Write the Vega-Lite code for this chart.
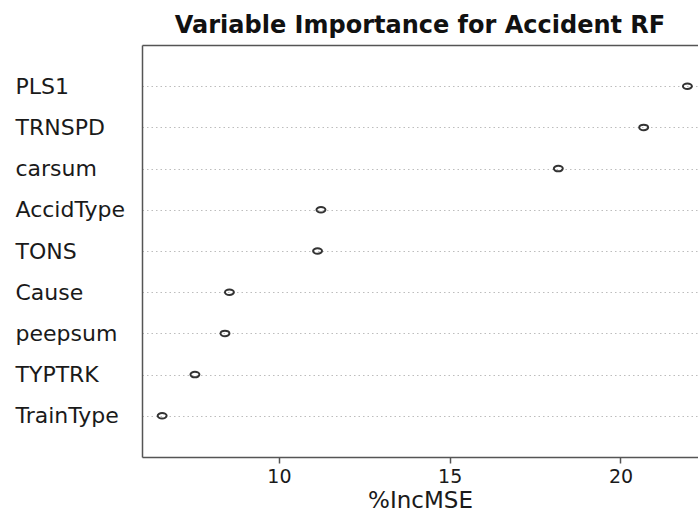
{
  "$schema": "https://vega.github.io/schema/vega-lite/v6.json",
  "autosize": "none",
  "padding": {"left": 142, "top": 45, "right": 0, "bottom": 61},
  "width": 556,
  "height": 412,
  "background": "white",
  "title": {
    "text": "Variable Importance for Accident RF",
    "font": "DejaVu Sans",
    "fontSize": 24,
    "fontWeight": "bold",
    "color": "#111111",
    "anchor": "middle",
    "frame": "group",
    "baseline": "alphabetic",
    "offset": 10,
    "dy": 22
  },
  "config": {"view": {"stroke": null}, "font": "DejaVu Sans"},
  "data": {
    "values": [
      {"variable": "PLS1", "value": 21.96},
      {"variable": "TRNSPD", "value": 20.68},
      {"variable": "carsum", "value": 18.18},
      {"variable": "AccidType", "value": 11.23},
      {"variable": "TONS", "value": 11.13},
      {"variable": "Cause", "value": 8.55},
      {"variable": "peepsum", "value": 8.42},
      {"variable": "TYPTRK", "value": 7.54},
      {"variable": "TrainType", "value": 6.58}
    ]
  },
  "resolve": {"axis": {"x": "independent"}},
  "layer": [
    {
      "mark": {
        "type": "point",
        "shape": "M -1 0 A 1 0.62 0 1 0 1 0 A 1 0.62 0 1 0 -1 0 Z",
        "filled": false,
        "stroke": "#333333",
        "strokeWidth": 2,
        "size": 80,
        "opacity": 1
      },
      "encoding": {
        "x": {
          "field": "value",
          "type": "quantitative",
          "scale": {"domain": [5.99, 22.27], "nice": false, "zero": false},
          "axis": {
            "orient": "bottom",
            "values": [10, 15, 20],
            "title": "%IncMSE",
            "titleFont": "DejaVu Sans",
            "titleFontSize": 23,
            "titleFontWeight": "normal",
            "titleColor": "#1a1a1a",
            "titleBaseline": "alphabetic",
            "titleY": 50,
            "labelFont": "DejaVu Sans",
            "labelFontSize": 19,
            "labelColor": "#1a1a1a",
            "labelPadding": 4,
            "labelFlush": false,
            "tickSize": 6,
            "tickColor": "#555555",
            "tickWidth": 1.5,
            "domainColor": "#555555",
            "domainWidth": 1.5,
            "grid": false
          }
        },
        "y": {
          "field": "variable",
          "type": "ordinal",
          "sort": null,
          "scale": {"type": "point", "padding": 1},
          "axis": {
            "title": null,
            "domain": true,
            "domainColor": "#555555",
            "domainWidth": 1.5,
            "ticks": false,
            "tickSize": 0,
            "labelAlign": "left",
            "labelPadding": 127,
            "labelFont": "DejaVu Sans",
            "labelFontSize": 22,
            "labelColor": "#1a1a1a",
            "grid": true,
            "gridColor": "#bdbdbd",
            "gridDash": [1.5, 3],
            "gridWidth": 1
          }
        }
      }
    },
    {
      "mark": {"type": "point", "opacity": 0},
      "encoding": {
        "x": {
          "field": "value",
          "type": "quantitative",
          "axis": {
            "orient": "top",
            "labels": false,
            "ticks": false,
            "grid": false,
            "title": null,
            "domain": true,
            "domainColor": "#555555",
            "domainWidth": 1.5
          }
        }
      }
    }
  ]
}
